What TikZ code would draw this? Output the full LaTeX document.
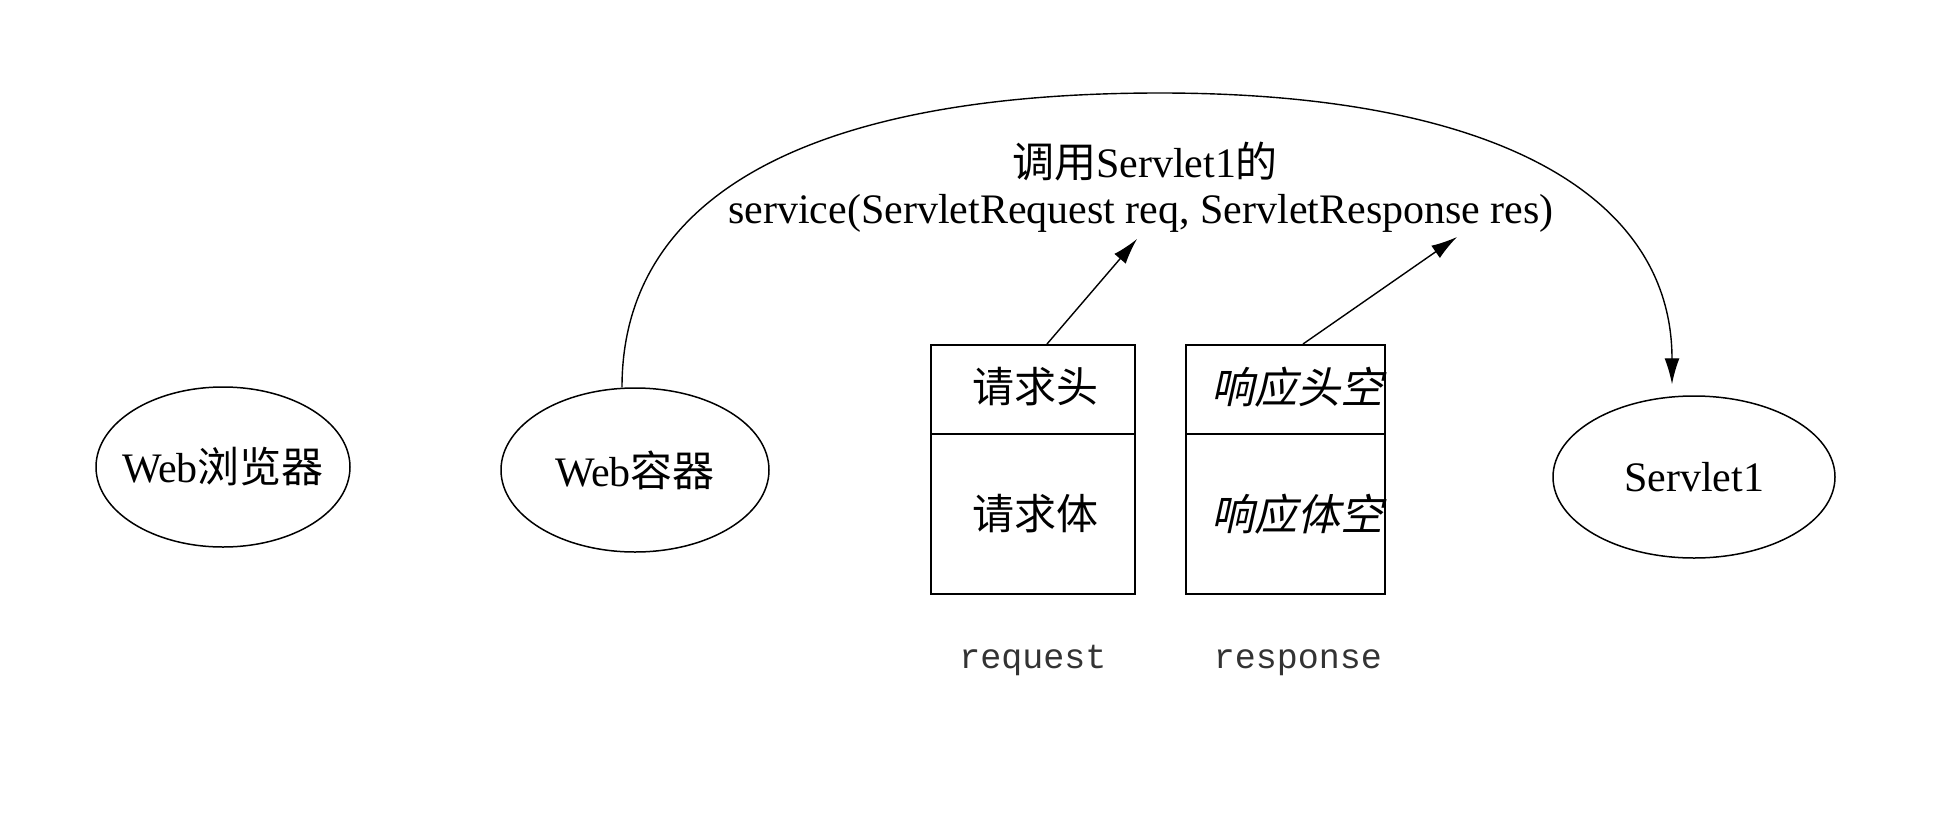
\documentclass[tikz,border=0pt]{standalone}
\usepackage{fontspec}
\setmainfont{Liberation Serif}
\setmonofont{Liberation Mono}
\newfontfamily\cjk{Noto Sans CJK SC}
\newfontfamily\cjkit{Noto Sans CJK SC}[FakeSlant=0.22]
\usetikzlibrary{shapes.geometric,arrows.meta,calc}
\begin{document}
\begin{tikzpicture}[x=1pt,y=-1pt,
  line width=1.5pt,
  ell/.style={draw, ellipse, inner sep=0pt},
  box/.style={draw, rectangle, inner sep=0pt, line width=2pt},
  lbl/.style={inner sep=0pt, font=\fontsize{42}{46}\selectfont},
  zh/.style={inner sep=0pt, font=\cjk\fontsize{42}{46}\selectfont},
  zhit/.style={inner sep=0pt, font=\cjkit\fontsize{43}{46}\selectfont},
  ttl/.style={inner sep=0pt, anchor=base, font=\ttfamily\fontsize{35}{40}\selectfont, text=black!80},
  arr/.style={-{Latex[length=26pt,width=15pt]}, line width=1.4pt}
]
\useasboundingbox (0,0) rectangle (1936,830);
\fill[white] (0,0) rectangle (1936,830);

% ellipses
\node[ell, minimum width=254pt, minimum height=160pt] (A) at (223,467) {};
\node[lbl] (Atext) at (A.center) {Web{\cjk 浏览器}};
\node[ell, minimum width=268pt, minimum height=164pt] (B) at (635,470) {};
\node[lbl] (Btext) at (B.center) {Web{\cjk 容器}};
\node[ell, minimum width=282pt, minimum height=162pt] (C) at (1694,477) {};
\node[lbl] (Ctext) at (C.center) {Servlet1};

% request box
\node[box, minimum width=204pt, minimum height=89pt] (reqh) at (1033,389.5) {};
\node[box, minimum width=204pt, minimum height=160pt] (reqb) at (1033,514) {};
\node[zh] (reqht) at (1035,387) {请求头};
\node[zh] (reqbt) at (1035,514) {请求体};

% response box
\node[box, minimum width=199pt, minimum height=89pt] (resh) at (1285.5,389.5) {};
\node[box, minimum width=199pt, minimum height=160pt] (resb) at (1285.5,514) {};
\node[zhit] (resht) at (1297,387) {响应头空};
\node[zhit] (resbt) at (1297,514) {响应体空};

% captions
\node[ttl] (reqcap) at (1033,668) {request};
\node[ttl] (rescap) at (1298,668) {response};

% call label
\node[lbl, anchor=base] (lab1) at (1145,177) {{\cjk 调用}Servlet1{\cjk 的}};
\node[lbl, anchor=base] (lab2) at (1141,223) {service(ServletRequest req, ServletResponse res)};

% arrows from boxes to parameters
\coordinate (t1) at (1137,239);
\coordinate (t2) at (1457,237);
\draw[arr] ($(reqh.north)+(14,0)$) -- (t1);
\draw[arr] ($(resh.north)+(17.5,0)$) -- (t2);

% big arc from Web container to Servlet1
\coordinate (s0) at ($(B.north)+(-13,0)$);
\coordinate (peak) at (1160,93);
\coordinate (e0) at ($(C.north)+(-22,-11)$);
\draw[arr] (s0) .. controls +(0,-192) and +(-350,0) .. (peak)
               .. controls +(333,0) and +(0,-190) .. (e0);
\end{tikzpicture}
\end{document}
